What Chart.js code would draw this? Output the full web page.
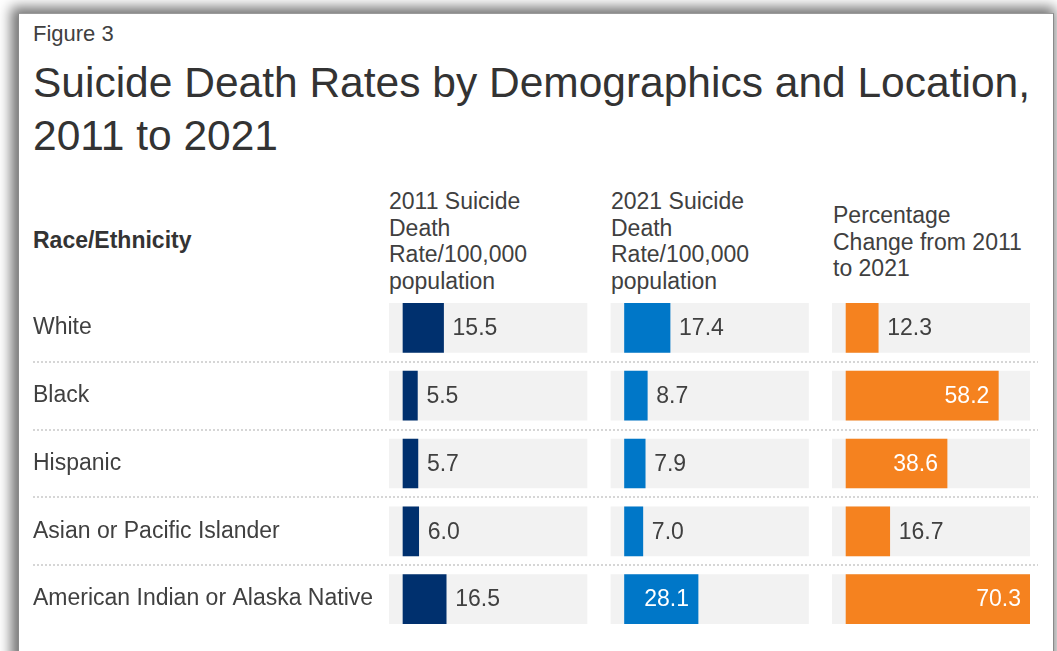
<!DOCTYPE html>
<html>
<head>
<meta charset="utf-8">
<title>Suicide Death Rates by Demographics and Location</title>
<script src="https://cdn.jsdelivr.net/npm/chart.js@4.4.1/dist/chart.umd.min.js"></script>
<style>
    body { margin: 0; background: #fff; font-family: "Liberation Sans", Arial, sans-serif; color: #404040; }
    #page { position: relative; width: 1057px; height: 651px; overflow: hidden; background: #fff; }
    #panel { position: absolute; left: 18px; top: 13px; width: 1034px; height: 700px; background: #fff;
             border-left: 1px solid #8a8a8a; border-top: 1px solid #9a9a9a; border-right: 1px solid #8a8a8a;
             box-shadow: -3px -2px 12px 4px rgba(0, 0, 0, 0.55); }
    .txt { position: absolute; white-space: nowrap; font-size: 23px; line-height: 26.5px; }
    #title { font-size: 42.5px; line-height: 52.5px; color: #333; }
    #chartWrap { position: absolute; left: 0; top: 279.6px; width: 1057px; height: 367px; }
</style>
</head>
<body>
<div id="page">
    <div id="panel"></div>
    <div class="txt" style="left:33px; top:21px; font-size:22px;">Figure 3</div>
    <div class="txt" id="title" style="left:33px; top:57px;">Suicide Death Rates by Demographics and Location,<br>2011 to 2021</div>
    <div class="txt" style="left:33px; top:227px; font-weight:bold; color:#333;">Race/Ethnicity</div>
    <div class="txt" style="left:389px; top:188px;">2011 Suicide<br>Death<br>Rate/100,000<br>population</div>
    <div class="txt" style="left:611px; top:188px;">2021 Suicide<br>Death<br>Rate/100,000<br>population</div>
    <div class="txt" style="left:833px; top:202px;">Percentage<br>Change from 2011<br>to 2021</div>
    <div id="chartWrap"><canvas id="rateChart"></canvas></div>
</div>
<script>
const rows = ['White', 'Black', 'Hispanic', 'Asian or Pacific Islander', 'American Indian or Alaska Native'];
const rate2011 = [15.5, 5.5, 5.7, 6.0, 16.5];
const rate2021 = [17.4, 8.7, 7.9, 7.0, 28.1];
const pctChange = [12.3, 58.2, 38.6, 16.7, 70.3];

// grey track behind each bar runs a little left of zero up to the biggest value
const trackMax = Math.max(...pctChange);
const trackPad = 5.35;
const gap = 9;
const track = rows.map(() => [-trackPad, trackMax]);

const FONT = '"Liberation Sans", Arial, sans-serif';

function trackSet(axis) {
    return {
        data: track, xAxisID: axis, backgroundColor: '#f2f2f2',
        order: 2, grouped: false, barThickness: 49, isTrack: true
    };
}
function barSet(values, axis, color) {
    return {
        data: values, xAxisID: axis, backgroundColor: color,
        order: 1, grouped: false, barThickness: 49
    };
}
function colScale(last) {
    const max = last ? trackMax : trackMax + gap;
    return {
        type: 'linear', min: -trackPad, max: max, display: false,
        stack: 'cols', stackWeight: max + trackPad, position: 'bottom'
    };
}

const separators = {
    id: 'separators',
    beforeDatasetsDraw(chart) {
        const ctx = chart.ctx;
        const y = chart.scales.y;
        ctx.save();
        ctx.strokeStyle = '#d6d6d6';
        ctx.lineWidth = 2;
        ctx.setLineDash([2, 2]);
        for (let i = 0; i < rows.length - 1; i++) {
            const py = Math.round((y.getPixelForValue(i) + y.getPixelForValue(i + 1)) / 2);
            ctx.beginPath();
            ctx.moveTo(33, py);
            ctx.lineTo(1038, py);
            ctx.stroke();
        }
        ctx.restore();
    }
};

const valueLabels = {
    id: 'valueLabels',
    afterDatasetsDraw(chart) {
        const ctx = chart.ctx;
        ctx.save();
        ctx.font = '23px ' + FONT;
        ctx.textBaseline = 'middle';
        chart.data.datasets.forEach((ds, i) => {
            if (ds.isTrack) return;
            chart.getDatasetMeta(i).data.forEach((bar, j) => {
                const txt = ds.data[j].toFixed(1);
                if (bar.x - bar.base > 60) {
                    ctx.fillStyle = '#fff';
                    ctx.textAlign = 'right';
                    ctx.fillText(txt, bar.x - 9, bar.y + 1);
                } else {
                    ctx.fillStyle = '#404040';
                    ctx.textAlign = 'left';
                    ctx.fillText(txt, bar.x + 9, bar.y + 1);
                }
            });
        });
        ctx.restore();
    }
};

const config = {
    type: 'bar',
    data: {
        labels: rows,
        datasets: [
            trackSet('x1'), trackSet('x2'), trackSet('x3'),
            barSet(rate2011, 'x1', '#00306e'),
            barSet(rate2021, 'x2', '#0077c8'),
            barSet(pctChange, 'x3', '#f5821f')
        ]
    },
    options: {
        indexAxis: 'y',
        responsive: true,
        maintainAspectRatio: false,
        animation: false,
        // top/bottom padding swallows the half label height the y axis asks for
        layout: { padding: { left: 33, right: 27, top: 14, bottom: 14 } },
        plugins: {
            legend: { display: false },
            tooltip: { enabled: false }
        },
        scales: {
            x1: colScale(false),
            x2: colScale(false),
            x3: colScale(true),
            y: {
                type: 'category',
                position: 'left',
                grid: { display: false },
                border: { display: false },
                ticks: { crossAlign: 'far', padding: 0, color: '#404040', font: { size: 23, family: FONT } },
                afterFit(scale) { scale.width = 356; }
            }
        }
    },
    plugins: [separators, valueLabels]
};
const ctx = document.getElementById('rateChart').getContext('2d');
new Chart(ctx, config);
</script>
</body>
</html>
